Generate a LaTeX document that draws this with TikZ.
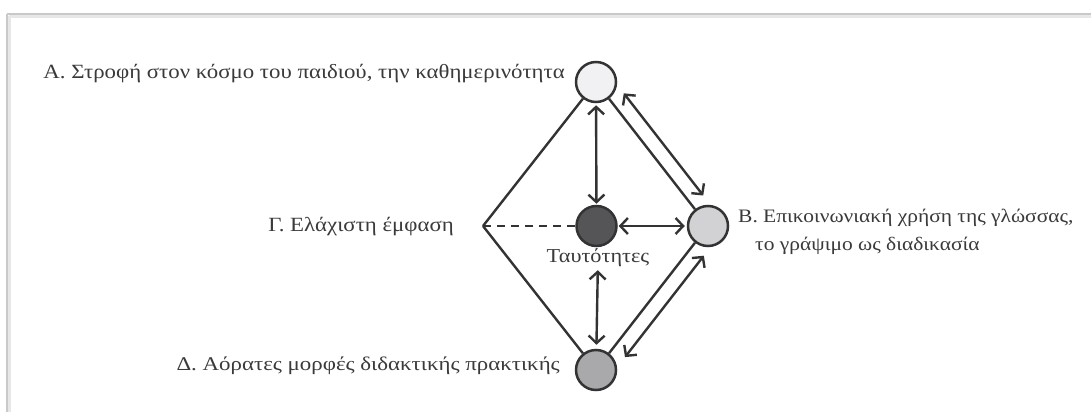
\documentclass[tikz,border=0pt]{standalone}
\usepackage{fontspec}
\setmainfont{Liberation Serif}
\newfontfamily\wideserif[FakeStretch=1.13]{Liberation Serif}
\newfontfamily\midserif[FakeStretch=1.18]{Liberation Serif}
\usetikzlibrary{arrows.meta,calc}
\definecolor{linec}{HTML}{333333}
\definecolor{textc}{HTML}{3A3A3A}
\definecolor{fillA}{HTML}{F1F1F3}
\definecolor{fillB}{HTML}{D2D2D4}
\definecolor{fillC}{HTML}{555557}
\definecolor{fillD}{HTML}{A9A9AC}
\definecolor{framec}{HTML}{C9C9C9}
\begin{document}
\begin{tikzpicture}[x=1pt,y=-1pt,
  state/.style={circle,draw=linec,line width=2.5pt,minimum size=40pt,inner sep=0pt},
  edgeline/.style={draw=linec,line width=2.4pt},
  dbl/.style={edgeline,{Straight Barb[length=7.5pt,width=16pt]}-{Straight Barb[length=7.5pt,width=16pt]}},
  lbl/.style={inner sep=0pt,text=textc,font=\wideserif\fontsize{20.2}{24}\selectfont},
  lblB/.style={inner sep=0pt,text=textc,font=\wideserif\fontsize{19}{28}\selectfont},
  lblT/.style={inner sep=0pt,text=textc,font=\wideserif\fontsize{19.7}{22}\selectfont},
  lblD/.style={inner sep=0pt,text=textc,font=\midserif\fontsize{19.4}{22}\selectfont}]
\useasboundingbox (0,0) rectangle (1091,412);
\fill[white] (0,0) rectangle (1091,412);
% page frame with a soft shadow
\draw[framec!45,line width=4pt] (9,16) -- (1091,16);
\draw[framec!45,line width=4pt] (9,16) -- (9,412);
\draw[framec,line width=1.6pt] (7,14) -- (1091,14);
\draw[framec,line width=1.6pt] (7,14) -- (7,412);

% states
\node[state,fill=fillA] (A) at (596,82) {};
\node[state,fill=fillB] (B) at (708,226) {};
\node[state,fill=fillC] (C) at (596.5,226) {};
\node[state,fill=fillD] (D) at (596,370) {};
\coordinate (L) at (483,226);

% diamond
\draw[edgeline] (L) -- (A);
\draw[edgeline] (L) -- (D);
\draw[edgeline] (A) -- (B);
\draw[edgeline] (B) -- (D);
\draw[edgeline,dash pattern=on 8pt off 6pt] (L) -- (C);

% labels
\node[lbl,anchor=east] (tA) at (565,74) {Α. Στροφή στον κόσμο του παιδιού, την καθημερινότητα};
\node[lbl,anchor=east] (tG) at (454,227) {Γ. Ελάχιστη έμφαση};
\node[lblB,anchor=west,align=left] (tB) at (738,232) {Β. Επικοινωνιακή χρήση της γλώσσας,\\\hspace*{17pt}το γράψιμο ως διαδικασία};
\node[lblT] (T) at (598,258) {Ταυτότητες};
\node[lblD,anchor=east] (tD) at (560,366) {Δ. Αόρατες μορφές διδακτικής πρακτικής};

% arrows
\draw[dbl,shorten <=2pt,shorten >=1pt] (A) -- (C);
\draw[dbl,shorten <=1pt,shorten >=2pt] (C) -- (B);
\draw[dbl,shorten <=3pt,shorten >=4pt] (T) -- (D);
\draw[dbl,shorten <=26pt,shorten >=27pt] ([shift={(11.8,-9.2)}]A.center) -- ([shift={(11.8,-9.2)}]B.center);
\draw[dbl,shorten <=26pt,shorten >=28pt] ([shift={(11.8,9.2)}]B.center) -- ([shift={(11.8,9.2)}]D.center);
\end{tikzpicture}
\end{document}
